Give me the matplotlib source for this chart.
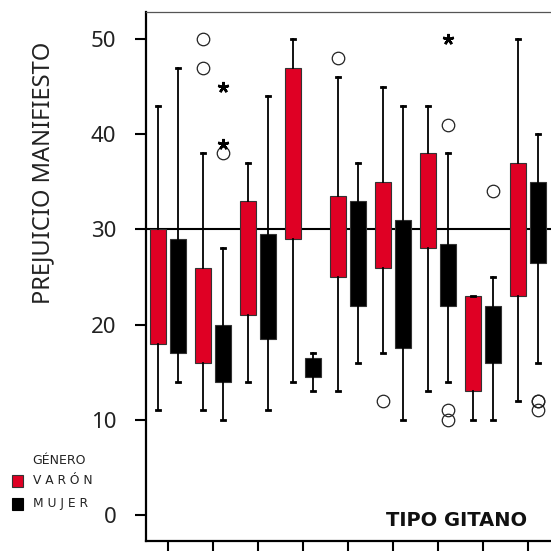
import matplotlib
matplotlib.use("Agg")
import matplotlib.pyplot as plt
from matplotlib.patches import Rectangle
import numpy as np

# ---- data ----
groups = [1, 2, 3, 4, 5, 6, 7, 8, 9]
# VARÓN (red)
v_q1 = [18, 16, 21, 29, 25, 26, 28, 13, 23]
v_q3 = [30, 26, 33, 47, 33.5, 35, 38, 23, 37]
v_lo = [11, 11, 14, 14, 13, 17, 13, 10, 12]
v_hi = [43, 38, 37, 50, 46, 45, 43, 23, 50]
v_out = [[], [50, 47], [], [], [48], [12], [], [], []]
v_ext = [[], [], [], [], [], [], [], [], []]
# MUJER (black)
m_q1 = [17, 14, 18.5, 14.5, 22, 17.5, 22, 16, 26.5]
m_q3 = [29, 20, 29.5, 16.5, 33, 31, 28.5, 22, 35]
m_lo = [14, 10, 11, 13, 16, 10, 14, 10, 16]
m_hi = [47, 28, 44, 17, 37, 43, 38, 25, 40]
m_out = [[], [38], [], [], [], [], [41, 11, 10], [34], [12, 12, 11]]
m_ext = [[], [45, 39], [], [], [], [], [50], [], []]
ref_value = 30
yticks = [0, 10, 20, 30, 40, 50]

RED = "#DF0024"

fig = plt.figure(figsize=(5.51, 5.51), dpi=100)
ax = fig.add_axes([146/551, 1-541/551, 1-146/551 + 0.02, (541-12)/551])

def stats(q1, q3, lo, hi, out):
    res = []
    for a, b, c, d, e in zip(q1, q3, lo, hi, out):
        res.append(dict(q1=a, q3=b, med=(a+b)/2, whislo=c, whishi=d, fliers=e))
    return res

off = 0.225
w = 0.355
common = dict(widths=w, patch_artist=True, showfliers=True, capwidths=0.09,
              whiskerprops=dict(color="black", lw=1.3),
              capprops=dict(color="black", lw=2.0),
              flierprops=dict(marker="o", markerfacecolor="none", markeredgecolor="#222222",
                              markersize=9, markeredgewidth=0.9),
              medianprops=dict(lw=0))
ax.bxp(stats(v_q1, v_q3, v_lo, v_hi, v_out), positions=np.array(groups) - off,
       boxprops=dict(facecolor=RED, edgecolor="#333333", lw=0.8), **common)
ax.bxp(stats(m_q1, m_q3, m_lo, m_hi, m_out), positions=np.array(groups) + off,
       boxprops=dict(facecolor="black", edgecolor="#333333", lw=0.8), **common)

for g, ext in zip(groups, v_ext):
    for e in ext:
        ax.plot(g - off, e, marker=(5, 2, 0), color="black", markersize=8, mew=1.8)
for g, ext in zip(groups, m_ext):
    for e in ext:
        ax.plot(g + off, e, marker=(5, 2, 0), color="black", markersize=8, mew=1.8)

ax.axhline(ref_value, color="black", lw=1.5, zorder=0.5)

ax.set_xlim(0.51, 9.51 + 0.02*551/45)
ax.set_ylim(-2.73, 52.84)
ax.set_yticks(yticks)
ax.set_yticklabels([str(t) for t in yticks], fontsize=16, family="Noto Sans", color="#222222")
ax.set_xticks(groups)
ax.set_xticklabels([])
ax.tick_params(axis="y", length=8, width=1.5, pad=13.5, direction="out")
ax.tick_params(axis="x", length=8, width=1.5, direction="out")
ax.spines["left"].set_linewidth(1.6)
ax.spines["bottom"].set_linewidth(1.6)
ax.spines["top"].set_linewidth(0.9)
ax.spines["top"].set_color("#555555")
ax.spines["right"].set_visible(False)

fig.text(43/551, 1-173/551, "PREJUICIO MANIFIESTO", fontsize=17, family="Noto Sans",
         color="#222222", rotation=90, ha="center", va="center")

fig.text(386/551, 1-520/551, "TIPO GITANO", fontsize=14,
         fontweight="bold", va="center", ha="left", color="#111111")

# legend
fig.text(32/551, 1-461/551, "GÉNERO", fontsize=9, va="center", ha="left", color="#222222")
fig.text(33/551, 1-481/551, "V A R Ó N", fontsize=8.8, va="center", ha="left", color="#222222")
fig.text(33/551, 1-503/551, "M U J E R", fontsize=8.8, va="center", ha="left", color="#222222")
fig.patches.append(Rectangle((12/551, 1-487/551), 11/551, 12/551, transform=fig.transFigure,
                             facecolor=RED, edgecolor="#333333", lw=0.8))
fig.patches.append(Rectangle((12/551, 1-510/551), 11/551, 12/551, transform=fig.transFigure,
                             facecolor="black", edgecolor="black", lw=0.8))

fig.savefig("out.png", dpi=100)
